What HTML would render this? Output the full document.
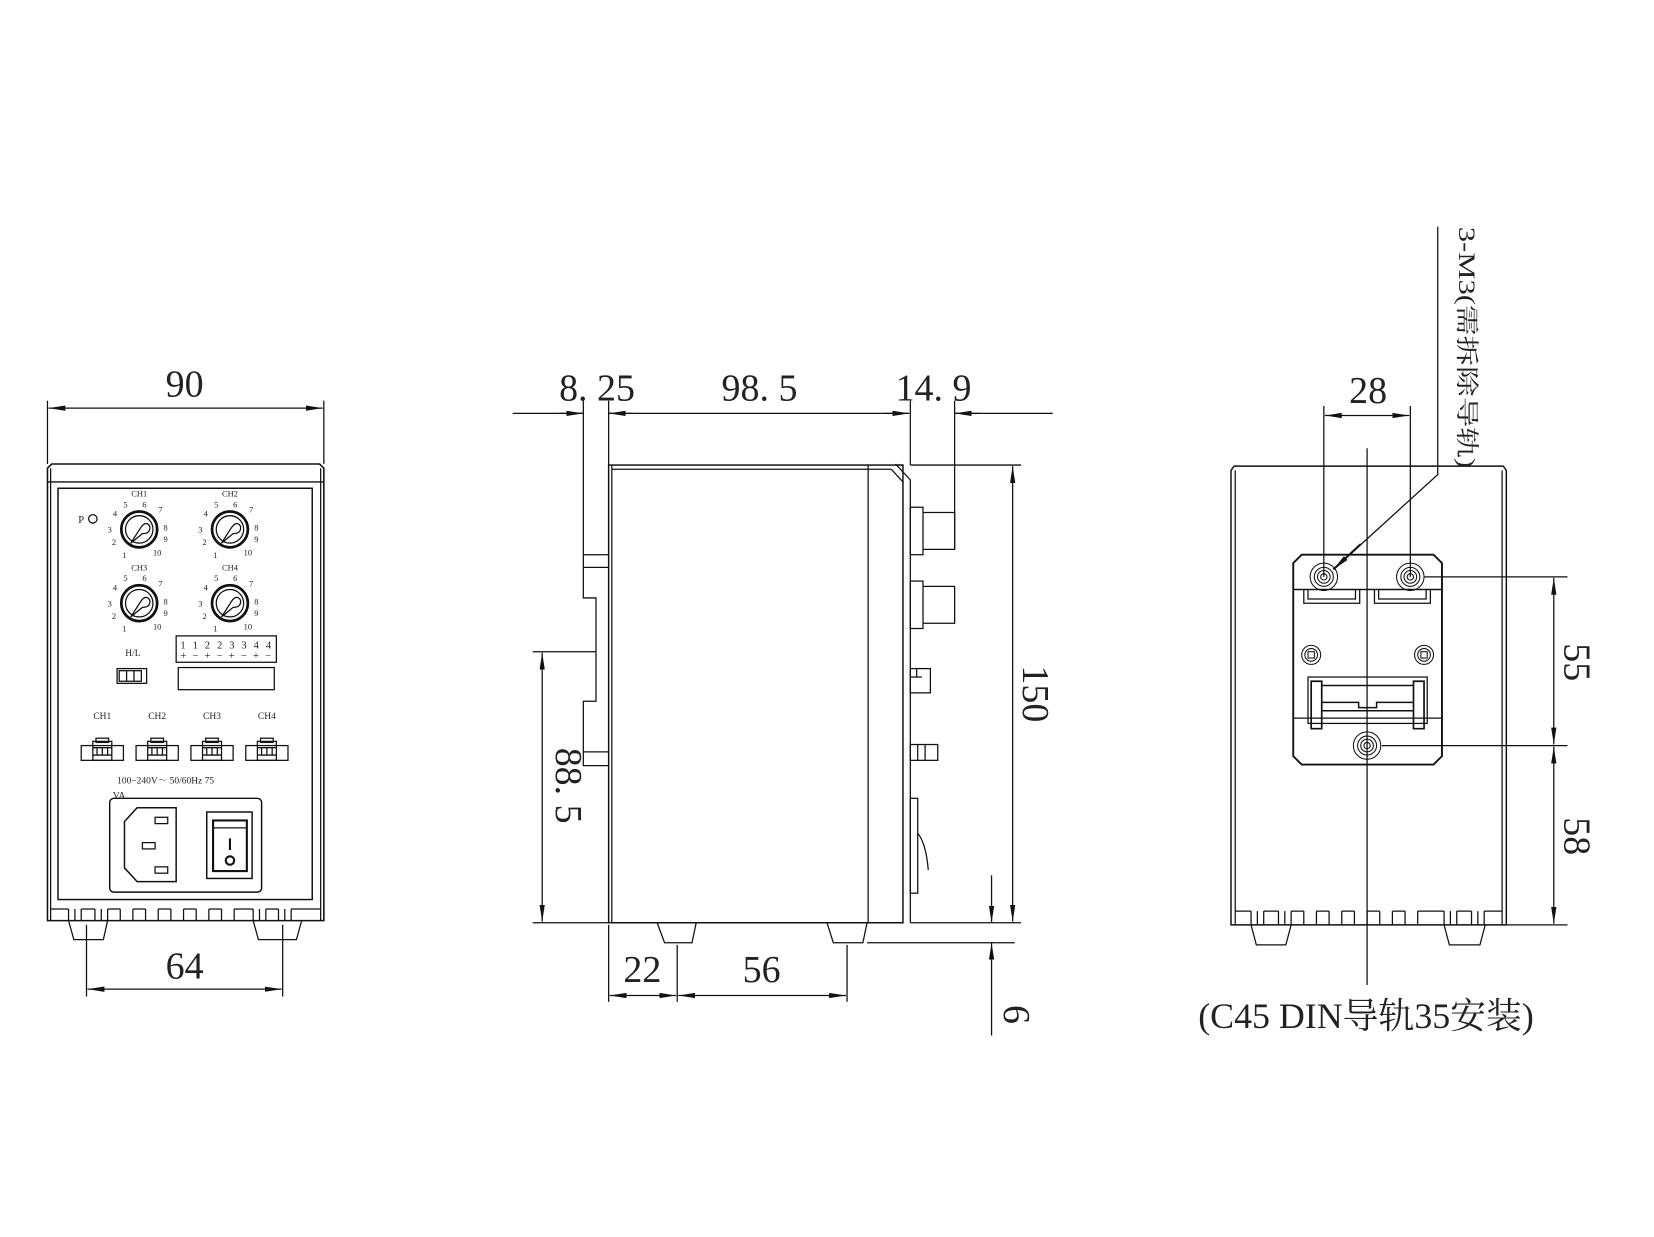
<!DOCTYPE html>
<html><head><meta charset="utf-8"><style>
html,body{margin:0;padding:0;background:#fff;}
svg{display:block}
text{font-family:"Liberation Serif","Noto Serif CJK SC",serif;fill:#222}
.s{font-family:"Liberation Mono","Noto Sans CJK SC",monospace;}
</style></head><body>
<svg width="1654" height="1237" viewBox="0 0 1568 1173" preserveAspectRatio="none" xmlns="http://www.w3.org/2000/svg">
<defs>
<marker id="a" markerWidth="16" markerHeight="6" refX="16" refY="3" orient="auto-start-reverse" markerUnits="userSpaceOnUse"><path d="M16,3 L0,0.5 L0,5.5 Z" fill="#111"/></marker>
</defs>
<g fill="none" stroke="#111" stroke-width="1.2">

<!-- ============ LEFT VIEW ============ -->
<line x1="45" y1="380" x2="45" y2="440"/><line x1="307" y1="380" x2="307" y2="440"/>
<line x1="46" y1="387" x2="306" y2="387" marker-start="url(#a)" marker-end="url(#a)"/>
<path d="M45,444 L49,440 L303,440 L307,444 L307,873 L45,873 Z" stroke-width="1.5"/>
<line x1="45" y1="457" x2="307" y2="457"/><line x1="48" y1="444" x2="48" y2="873"/><line x1="304" y1="444" x2="304" y2="873"/>
<rect x="55" y="463" width="241" height="390" stroke-width="1.4"/>
<path d="M48,862 L65,862 M77,862 L90,862 M102,862 L114,862 M126,862 L138,862 M150,862 L162,862 M174,862 L186,862 M198,862 L210,862 M222,862 L240,862 M252,862 L264,862 M276,862 L304,862" />
<path d="M65,862 v11 M77,862 v11 M90,862 v11 M102,862 v11 M114,862 v11 M126,862 v11 M138,862 v11 M150,862 v11 M162,862 v11 M174,862 v11 M186,862 v11 M198,862 v11 M210,862 v11 M222,862 v11 M240,862 v11 M252,862 v11 M264,862 v11 M276,862 v11 M71,862 v11 M96,862 v11 M246,862 v11 M270,862 v11"/>
<path d="M65,873 L70,891 L98,891 L102,873 M240,873 L245,891 L281,891 L286,873"/>
<line x1="82" y1="877" x2="82" y2="945"/><line x1="268" y1="877" x2="268" y2="945"/>
<line x1="83" y1="938" x2="267" y2="938" marker-start="url(#a)" marker-end="url(#a)"/>
<circle cx="88" cy="492" r="4"/>
<g transform="translate(132,502)"><circle r="17" stroke-width="2.6"/><circle r="13"/><path d="M-8,13 L1,-1 Q6,-9 10,-3 Q11,4 3,4 Z"/></g>
<g transform="translate(218,502)"><circle r="17" stroke-width="2.6"/><circle r="13"/><path d="M-8,13 L1,-1 Q6,-9 10,-3 Q11,4 3,4 Z"/></g>
<g transform="translate(132,572)"><circle r="17" stroke-width="2.6"/><circle r="13"/><path d="M-8,13 L1,-1 Q6,-9 10,-3 Q11,4 3,4 Z"/></g>
<g transform="translate(218,572)"><circle r="17" stroke-width="2.6"/><circle r="13"/><path d="M-8,13 L1,-1 Q6,-9 10,-3 Q11,4 3,4 Z"/></g>
<rect x="167" y="603" width="95" height="25"/>
<rect x="169" y="633" width="91" height="21"/>
<rect x="111" y="634" width="28" height="14"/><rect x="113" y="636" width="21" height="10"/><line x1="120" y1="636" x2="120" y2="646"/><line x1="127" y1="636" x2="127" y2="646"/>
<g id="c1"><rect x="77" y="707" width="40" height="14"/><rect x="88" y="703" width="18" height="18"/><rect x="91" y="700" width="12" height="4"/><line x1="92" y1="709" x2="92" y2="716"/><line x1="97" y1="709" x2="97" y2="716"/><line x1="102" y1="709" x2="102" y2="716"/><line x1="88" y1="716" x2="106" y2="716"/><line x1="88" y1="709" x2="106" y2="709"/></g>
<use href="#c1" x="52"/><use href="#c1" x="104"/><use href="#c1" x="156"/>
<rect x="104" y="757" width="144" height="89" rx="4" stroke-width="1.4"/>
<path d="M130,766 L167,766 L167,836 L130,836 L118,823 L118,779 Z" stroke-width="1.4"/>
<rect x="147" y="775" width="12" height="6"/><rect x="135" y="799" width="12" height="6"/><rect x="147" y="822" width="12" height="6"/>
<rect x="196" y="770" width="43" height="63" stroke-width="1.4"/>
<rect x="202" y="778" width="32" height="48" stroke-width="2"/>
<line x1="202" y1="785" x2="234" y2="785"/>
<line x1="218" y1="795" x2="218" y2="806" stroke-width="2"/><circle cx="218" cy="816" r="4" stroke-width="2"/>

<!-- ============ MIDDLE VIEW ============ -->
<line x1="486" y1="392" x2="553" y2="392"/>
<line x1="530" y1="392" x2="553" y2="392" marker-end="url(#a)"/>
<line x1="577" y1="392" x2="862" y2="392"/>
<line x1="600" y1="392" x2="577" y2="392" marker-end="url(#a)"/>
<line x1="838" y1="392" x2="862" y2="392" marker-end="url(#a)"/>
<line x1="905" y1="392" x2="998" y2="392"/>
<line x1="929" y1="392" x2="905" y2="392" marker-end="url(#a)"/>
<line x1="553" y1="380" x2="553" y2="526"/><line x1="577" y1="380" x2="577" y2="441"/>
<line x1="863" y1="380" x2="863" y2="441"/><line x1="905" y1="380" x2="905" y2="521"/>
<rect x="577" y="441" width="279" height="434" stroke-width="1.4"/>
<line x1="580" y1="441" x2="580" y2="875"/><line x1="580" y1="445" x2="845" y2="445"/>
<line x1="823" y1="441" x2="823" y2="875"/>
<path d="M849,440 L863,455 L863,875 M845,445 L856,457"/>
<line x1="856" y1="441" x2="849" y2="441"/>
<path d="M577,526 L553,526 L553,567 L565,567 L565,665 L553,665 L553,726 L577,726"/>
<line x1="553" y1="538" x2="577" y2="538"/><line x1="553" y1="713" x2="577" y2="713"/>
<rect x="863" y="481" width="12" height="45"/><path d="M875,486 L905,486 L905,521 L875,521"/>
<rect x="863" y="551" width="12" height="45"/><path d="M875,556 L905,556 L905,591 L875,591"/>
<rect x="863" y="634" width="19" height="23"/><line x1="863" y1="642" x2="874" y2="642"/><line x1="869" y1="634" x2="869" y2="642"/>
<rect x="863" y="706" width="26" height="15"/><line x1="870" y1="706" x2="870" y2="721"/><line x1="877" y1="706" x2="877" y2="721"/>
<rect x="863" y="757" width="7" height="90"/><path d="M870,790 Q878,800 880,825"/>
<path d="M623,875 L630,894 L656,894 L660,875 M784,875 L790,894 L818,894 L822,875"/>
<line x1="863" y1="441" x2="968" y2="441"/><line x1="863" y1="875" x2="968" y2="875"/>
<line x1="960" y1="442" x2="960" y2="874" marker-start="url(#a)" marker-end="url(#a)"/>
<line x1="822" y1="894" x2="962" y2="894"/>
<line x1="940" y1="830" x2="940" y2="875" marker-end="url(#a)"/>
<line x1="940" y1="894" x2="940" y2="982" marker-start="url(#a)"/>
<line x1="505" y1="618" x2="565" y2="618"/><line x1="505" y1="875" x2="577" y2="875"/>
<line x1="514" y1="619" x2="514" y2="874" marker-start="url(#a)" marker-end="url(#a)"/>
<line x1="577" y1="877" x2="577" y2="950"/><line x1="642" y1="896" x2="642" y2="950"/><line x1="803" y1="896" x2="803" y2="950"/>
<line x1="578" y1="944" x2="641" y2="944" marker-start="url(#a)" marker-end="url(#a)"/>
<line x1="643" y1="944" x2="802" y2="944" marker-start="url(#a)" marker-end="url(#a)"/>

<!-- ============ RIGHT VIEW ============ -->
<path d="M1167,446 L1170,442 L1425,442 L1428,446 L1428,877 L1167,877 Z" stroke-width="1.4"/>
<line x1="1171" y1="446" x2="1171" y2="877"/><line x1="1424" y1="446" x2="1424" y2="877"/>
<path d="M1171,864 L1186,864 M1198,864 L1212,864 M1224,864 L1236,864 M1248,864 L1260,864 M1272,864 L1284,864 M1296,864 L1308,864 M1320,864 L1332,864 M1344,864 L1369,864 M1381,864 L1395,864 M1407,864 L1424,864"/>
<path d="M1186,864 v13 M1192,864 v13 M1198,864 v13 M1212,864 v13 M1218,864 v13 M1224,864 v13 M1236,864 v13 M1248,864 v13 M1260,864 v13 M1272,864 v13 M1284,864 v13 M1296,864 v13 M1308,864 v13 M1320,864 v13 M1332,864 v13 M1344,864 v13 M1369,864 v13 M1375,864 v13 M1381,864 v13 M1395,864 v13 M1401,864 v13 M1407,864 v13"/>
<path d="M1186,877 L1191,896 L1219,896 L1224,877 M1369,877 L1374,896 L1403,896 L1408,877"/>
<path d="M1234,526 L1359,526 L1367,534 L1367,717 L1359,725 L1234,725 L1226,717 L1226,534 Z" stroke-width="1.8"/>
<line x1="1226" y1="559" x2="1367" y2="559" stroke-width="1.4"/>
<line x1="1226" y1="681" x2="1367" y2="681"/>
<path d="M1236,559 v13 h53 v-13 M1240,559 v9 h45 v-9 M1303,559 v13 h53 v-13 M1307,559 v9 h45 v-9"/>
<rect x="1240" y="642" width="113" height="44"/>
<path d="M1243,646 h10 v45 h-10 Z M1340,646 h10 v45 h-10 Z" stroke-width="1.6"/>
<path d="M1253,650 h87 M1253,666 h35 v5 h17 v-5 h35 M1253,674 h87" stroke-width="1.4"/>
<g stroke-width="1"><circle cx="1255" cy="547" r="13"/><circle cx="1255" cy="547" r="9"/><circle cx="1255" cy="547" r="6"/><circle cx="1255" cy="547" r="3"/>
<circle cx="1337" cy="547" r="13"/><circle cx="1337" cy="547" r="9"/><circle cx="1337" cy="547" r="6"/><circle cx="1337" cy="547" r="3"/>
<circle cx="1296" cy="707" r="13"/><circle cx="1296" cy="707" r="9"/><circle cx="1296" cy="707" r="6"/><circle cx="1296" cy="707" r="3"/>
<circle cx="1243" cy="621" r="9"/><circle cx="1243" cy="621" r="6"/><rect x="1240" y="618" width="6" height="6"/>
<circle cx="1350" cy="621" r="9"/><circle cx="1350" cy="621" r="6"/><rect x="1347" y="618" width="6" height="6"/></g>
<line x1="1296" y1="425" x2="1296" y2="934"/>
<line x1="1255" y1="385" x2="1255" y2="547"/><line x1="1337" y1="385" x2="1337" y2="547"/>
<line x1="1256" y1="394" x2="1336" y2="394" marker-start="url(#a)" marker-end="url(#a)"/>
<path d="M1363,215 L1363,450 L1274,531"/>
<line x1="1290" y1="516" x2="1264" y2="540" marker-end="url(#a)" stroke-width="2"/>
<line x1="1350" y1="547" x2="1486" y2="547"/><line x1="1310" y1="707" x2="1486" y2="707"/><line x1="1428" y1="877" x2="1486" y2="877"/>
<line x1="1473" y1="548" x2="1473" y2="706" marker-start="url(#a)" marker-end="url(#a)"/>
<line x1="1473" y1="708" x2="1473" y2="876" marker-start="url(#a)" marker-end="url(#a)"/>
</g>

<g font-size="36">
<text x="175" y="376" text-anchor="middle">90</text>
<text x="175" y="928" text-anchor="middle">64</text>
<text x="566" y="380" text-anchor="middle">8. 25</text>
<text x="720" y="380" text-anchor="middle">98. 5</text>
<text x="885" y="380" text-anchor="middle">14. 9</text>
<text x="609" y="931" text-anchor="middle">22</text>
<text x="722" y="931" text-anchor="middle">56</text>
<text x="1297" y="382" text-anchor="middle">28</text>
<text transform="translate(970,658) rotate(90)" text-anchor="middle">150</text>
<text transform="translate(527,745) rotate(90)" text-anchor="middle">88. 5</text>
<text transform="translate(952,962) rotate(90)" text-anchor="middle">6</text>
<text transform="translate(1483,628) rotate(90)" text-anchor="middle">55</text>
<text transform="translate(1483,793) rotate(90)" text-anchor="middle">58</text>
<text x="1295" y="975" text-anchor="middle" font-size="34">(C45 DIN导轨35安装)</text>
</g>
<text transform="translate(1383,215) rotate(90)" font-size="22" textLength="229" lengthAdjust="spacingAndGlyphs">3-M3(需拆除导轨)</text>

<g class="s" font-size="8" text-anchor="middle">
<text x="77" y="496" font-size="10">P</text>
<g transform="translate(132,502)"><text y="-31">CH1</text><text x="-14" y="27">1</text><text x="-24" y="15">2</text><text x="-28" y="3">3</text><text x="-23" y="-12">4</text><text x="-13" y="-21">5</text><text x="5" y="-21">6</text><text x="20" y="-16">7</text><text x="25" y="1">8</text><text x="25" y="12">9</text><text x="17" y="25">10</text></g>
<g transform="translate(218,502)"><text y="-31">CH2</text><text x="-14" y="27">1</text><text x="-24" y="15">2</text><text x="-28" y="3">3</text><text x="-23" y="-12">4</text><text x="-13" y="-21">5</text><text x="5" y="-21">6</text><text x="20" y="-16">7</text><text x="25" y="1">8</text><text x="25" y="12">9</text><text x="17" y="25">10</text></g>
<g transform="translate(132,572)"><text y="-31">CH3</text><text x="-14" y="27">1</text><text x="-24" y="15">2</text><text x="-28" y="3">3</text><text x="-23" y="-12">4</text><text x="-13" y="-21">5</text><text x="5" y="-21">6</text><text x="20" y="-16">7</text><text x="25" y="1">8</text><text x="25" y="12">9</text><text x="17" y="25">10</text></g>
<g transform="translate(218,572)"><text y="-31">CH4</text><text x="-14" y="27">1</text><text x="-24" y="15">2</text><text x="-28" y="3">3</text><text x="-23" y="-12">4</text><text x="-13" y="-21">5</text><text x="5" y="-21">6</text><text x="20" y="-16">7</text><text x="25" y="1">8</text><text x="25" y="12">9</text><text x="17" y="25">10</text></g>
<text x="126" y="622" font-size="9">H/L</text>
<text x="97" y="682" font-size="9">CH1</text><text x="149" y="682" font-size="9">CH2</text><text x="201" y="682" font-size="9">CH3</text><text x="253" y="682" font-size="9">CH4</text>
<text x="214" y="615" font-size="10" textLength="86" lengthAdjust="spacing">1 1 2 2 3 3 4 4</text>
<text x="214" y="625" font-size="10" textLength="86" lengthAdjust="spacing">+ − + − + − + −</text>
<text x="111" y="743" font-size="9" text-anchor="start">100−240V～ 50/60Hz 75</text>
<text x="107" y="757" font-size="9" text-anchor="start">VA</text>
</g>
</svg>
</body></html>
